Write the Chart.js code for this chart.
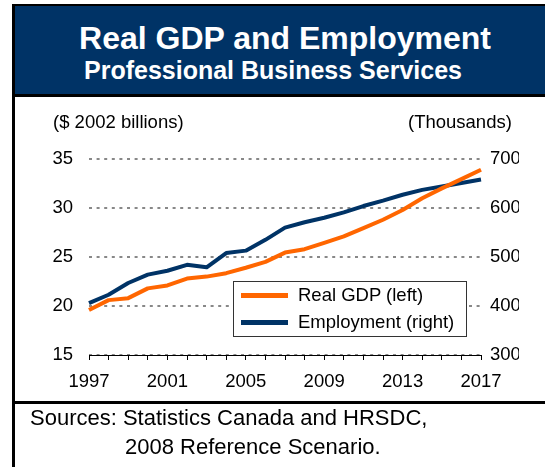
<!DOCTYPE html>
<html lang="en">
<head>
<meta charset="utf-8">
<title>Real GDP and Employment</title>
<script src="https://cdn.jsdelivr.net/npm/chart.js@4.4.0/dist/chart.umd.min.js"></script>
<style>
  body {
    margin: 0;
    width: 545px;
    height: 467px;
    overflow: hidden;
    position: relative;
    background: #fff;
    font-family: "Liberation Sans", Arial, sans-serif;
    color: #000;
  }
  #marco {
    position: absolute;
    left: 12px;
    top: 4px;
    width: 600px;
    height: 500px;
    border-left: 3px solid #000;
    border-top: 2px solid #000;
  }
  #banner {
    position: absolute;
    left: 15px;
    top: 6px;
    width: 530px;
    height: 88px;
    background: #003366;
    border-bottom: 3px solid #000;
  }
  .titulo {
    position: absolute;
    left: 13px;
    color: #fff;
    font-weight: bold;
    text-align: center;
    white-space: nowrap;
  }
  #titulo1 { width: 544px; top: 20px; font-size: 32px; line-height: 36px; }
  #titulo2 { width: 520px; top: 55px; font-size: 25px; line-height: 30px; }
  /* el lienzo termina en 519px, así las etiquetas de la derecha quedan cortadas */
  #contenedor {
    position: absolute;
    left: 0;
    top: 97px;
    width: 519px;
    height: 304px;
  }
  .ejeTitulo {
    position: absolute;
    top: 111px;
    font-size: 18.5px;
    line-height: 22px;
    white-space: nowrap;
  }
  #leyenda {
    position: absolute;
    left: 233px;
    top: 281px;
    width: 232px;
    height: 54px;
    border: 1px solid #333;
    background: #fff;
    font-size: 18.5px;
  }
  .itemLeyenda {
    position: absolute;
    left: 7px;
    height: 26px;
    line-height: 26px;
    white-space: nowrap;
  }
  .muestra {
    display: inline-block;
    width: 47px;
    height: 5px;
    vertical-align: middle;
    margin-right: 10px;
    margin-top: -2px;
  }
  #separador {
    position: absolute;
    left: 15px;
    top: 401px;
    width: 530px;
    height: 3px;
    background: #000;
  }
  .fuente {
    position: absolute;
    font-size: 22px;
    line-height: 28px;
    white-space: nowrap;
  }
</style>
</head>
<body>
<div id="contenedor"><canvas id="graficoPIB"></canvas></div>
<div id="marco"></div>
<div id="banner"></div>
<div class="titulo" id="titulo1">Real GDP and Employment</div>
<div class="titulo" id="titulo2">Professional Business Services</div>
<div class="ejeTitulo" style="left:53px">($ 2002 billions)</div>
<div class="ejeTitulo" style="left:408px">(Thousands)</div>
<div id="leyenda"></div>
<div id="separador"></div>
<div class="fuente" style="left:30px; top:404px">Sources: Statistics Canada and HRSDC,</div>
<div class="fuente" style="left:125px; top:433px">2008 Reference Scenario.</div>

<script>
// Años del eje horizontal
const anios = [1997, 1998, 1999, 2000, 2001, 2002, 2003, 2004, 2005, 2006, 2007,
               2008, 2009, 2010, 2011, 2012, 2013, 2014, 2015, 2016, 2017];

// PIB real, miles de millones de $ de 2002 (eje izquierdo)
const pibReal = [19.6, 20.6, 20.8, 21.8, 22.1, 22.8, 23.0, 23.35, 23.9, 24.5, 25.45,
                 25.8, 26.45, 27.1, 27.95, 28.8, 29.8, 31.0, 32.0, 32.95, 33.9];

// Empleo, miles (eje derecho)
const empleo = [406, 423, 447, 464, 472, 484, 479, 508, 513, 535, 560,
                571, 580, 591, 604, 615, 627, 637, 644, 651, 658];

// Etiquetas de los ejes
const ticksIzquierda = [15, 20, 25, 30, 35];
const ticksDerecha = [300, 400, 500, 600, 700];
const aniosEtiqueta = [1997, 2001, 2005, 2009, 2013, 2017];

const nombresSeries = ["Real GDP (left)", "Employment (right)"];
const coloresSeries = ["#ff6600", "#003366"];

Chart.defaults.font.family = "'Liberation Sans', Arial, sans-serif";
Chart.defaults.font.size = 18.5;
Chart.defaults.color = "#000";

let graficoPIB;

function crearGrafico() {
  const ctx = document.getElementById("graficoPIB").getContext("2d");

  graficoPIB = new Chart(ctx, {
    type: "line",
    data: {
      labels: anios,
      datasets: [{
        label: nombresSeries[0],
        data: pibReal,
        yAxisID: "y",
        borderColor: coloresSeries[0],
        borderWidth: 4,
        pointRadius: 0,
        tension: 0,
        borderJoinStyle: "round",
        fill: false
      }, {
        label: nombresSeries[1],
        data: empleo,
        yAxisID: "y1",
        borderColor: coloresSeries[1],
        borderWidth: 4,
        pointRadius: 0,
        tension: 0,
        borderJoinStyle: "round",
        fill: false
      }]
    },
    options: {
      responsive: true,
      maintainAspectRatio: false,
      animation: false,
      layout: { padding: { top: 62, left: 0, right: 0, bottom: 0 } },
      plugins: {
        legend: { display: false },
        tooltip: { enabled: false }
      },
      scales: {
        x: {
          type: "category",
          offset: false,
          border: { display: true, color: "#000", width: 1 },
          grid: {
            offset: false,
            drawOnChartArea: false,
            drawTicks: true,
            tickLength: 5,
            color: "#000"
          },
          ticks: {
            autoSkip: false,
            maxRotation: 0,
            padding: 11,
            callback: function(valor, indice) {
              const anio = anios[indice];
              return aniosEtiqueta.includes(anio) ? String(anio) : "";
            }
          },
          afterFit: function(escala) { escala.height = 46; }
        },
        y: {
          position: "left",
          min: ticksIzquierda[0],
          max: ticksIzquierda[ticksIzquierda.length - 1],
          border: { display: false, dash: [3, 4.6] },
          grid: { color: "#888", lineWidth: 2, drawTicks: false },
          ticks: { stepSize: 5, padding: 16 },
          afterBuildTicks: function(escala) {
            escala.ticks = ticksIzquierda.map(v => ({ value: v }));
          },
          afterFit: function(escala) { escala.width = 89; }
        },
        y1: {
          position: "right",
          min: ticksDerecha[0],
          max: ticksDerecha[ticksDerecha.length - 1],
          border: { display: false },
          grid: { drawOnChartArea: false, drawTicks: false },
          ticks: { stepSize: 100, padding: 9 },
          afterBuildTicks: function(escala) {
            escala.ticks = ticksDerecha.map(v => ({ value: v }));
          },
          afterFit: function(escala) { escala.width = 38; }
        }
      }
    }
  });
}

// Leyenda en HTML, armada a partir de las series del gráfico
function mostrarLeyenda() {
  const leyenda = document.getElementById("leyenda");
  leyenda.innerHTML = graficoPIB.data.datasets.map((serie, i) => `
    <div class="itemLeyenda" style="top:${i * 27}px">
      <span class="muestra" style="background:${serie.borderColor}"></span>${serie.label}
    </div>
  `).join("");
}

crearGrafico();
mostrarLeyenda();
</script>
</body>
</html>
